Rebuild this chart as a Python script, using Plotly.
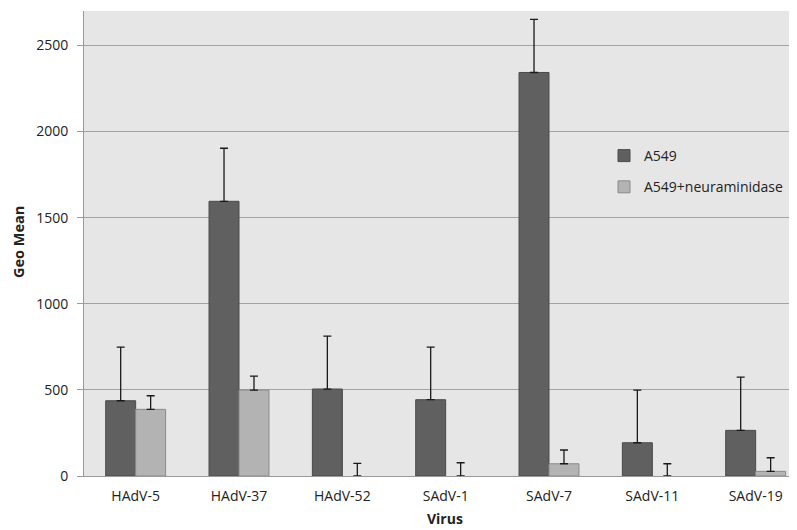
import plotly.graph_objects as go

categories = ["HAdV-5", "HAdV-37", "HAdV-52", "SAdV-1", "SAdV-7", "SAdV-11", "SAdV-19"]
a549 = [437, 1595, 505, 443, 2343, 193, 265]
a549_err = [311, 308, 307, 305, 308, 306, 309]
neur = [387, 499, 0, 0, 71, 0, 27]
neur_err = [79, 81, 73, 77, 80, 71, 79]
yticks = [0, 500, 1000, 1500, 2000, 2500]

font_family = "Open Sans, Liberation Sans, sans-serif"

# page body has an 8px default margin; compensate in figure size/margins
OFF = 8
W, H = 797 - OFF, 530 - OFF
L, T, B, R = 84 - OFF, 11 - OFF, 54, 0
pw, ph = W - L - R, H - T - B


def px(xs):
    return (xs - 84) / pw


def py(ys):
    return (476 - ys) / ph


fig = go.Figure()
fig.add_trace(go.Bar(
    x=categories, y=a549, name="A549", legendgroup="a",
    marker=dict(color="#606060", line=dict(color="#4a4a4a", width=1)),
    error_y=dict(type="data", array=a549_err, symmetric=False, arrayminus=[0]*7,
                 color="#1a1a1a", thickness=1.3, width=4),
))
fig.add_trace(go.Bar(
    x=categories, y=neur, name="A549+neuraminidase", legendgroup="b",
    marker=dict(color="#b3b3b3",
                line=dict(color="#8a8a8a", width=[1 if v > 0 else 0 for v in neur])),
    error_y=dict(type="data", array=neur_err, symmetric=False, arrayminus=[0]*7,
                 color="#1a1a1a", thickness=1.3, width=4),
))

fig.update_layout(
    width=W, height=H,
    margin=dict(l=L, r=R, t=T, b=B, autoexpand=False),
    paper_bgcolor="white", plot_bgcolor="#e6e6e6",
    barmode="group", bargap=0.42, bargroupgap=0,
    font=dict(family=font_family, size=14, color="#222222"),
    legend=dict(x=px(604), y=py(140), xanchor="left", yanchor="top",
                bgcolor="rgba(0,0,0,0)", tracegroupgap=10,
                font=dict(size=14)),
    showlegend=True,
    annotations=[
        dict(text="<b>Geo Mean</b>", x=px(18), y=py(242), xref="paper", yref="paper",
             xanchor="center", yanchor="middle",
             showarrow=False, textangle=-90, font=dict(size=14.5)),
        dict(text="<b>Virus</b>", x=px(445), y=py(518), xref="paper", yref="paper",
             xanchor="center", yanchor="middle",
             showarrow=False, font=dict(size=14)),
    ],
)

fig.update_xaxes(
    range=[-0.5, 6.4], showline=True, linecolor="#9a9a9a", linewidth=1,
    ticks="", showgrid=False, automargin=False, ticklabelstandoff=7,
)
fig.update_yaxes(
    range=[0, 2700], tickvals=yticks, showline=True, linecolor="#9a9a9a", linewidth=1,
    ticks="outside", ticklen=6, tickcolor="#9a9a9a", automargin=False,
    ticklabelstandoff=6,
    showgrid=True, gridcolor="#a3a3a3", gridwidth=1, zeroline=False,
)

fig.write_html("out.html")
